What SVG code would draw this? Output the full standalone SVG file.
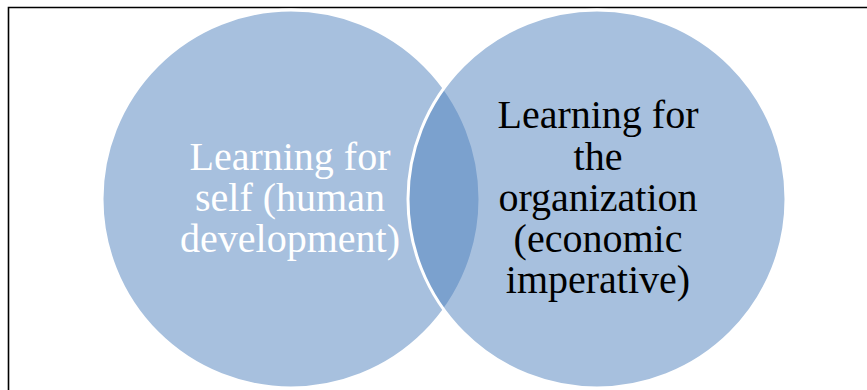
<svg xmlns="http://www.w3.org/2000/svg" width="867" height="390" viewBox="0 0 867 390">
<style>
.c{fill:#4F81BD;fill-opacity:0.5;stroke:#FFFFFF;stroke-width:3}
.t{font-family:"Liberation Serif","Times New Roman",serif;font-size:40px;text-anchor:middle}
</style>
<rect x="0" y="0" width="867" height="390" fill="#FFFFFF"/>
<path d="M8.5 390 V7.5 H867" fill="none" stroke="#000000" stroke-width="1.6"/>
<g id="self">
<circle class="c" cx="291" cy="199" r="189"/>
<text class="t" fill="#FFFFFF"><tspan x="290" y="170">Learning for</tspan><tspan x="290" y="211">self (human</tspan><tspan x="290" y="252">development)</tspan></text>
</g>
<g id="organization">
<circle class="c" cx="597" cy="199" r="189"/>
<text class="t" fill="#000000"><tspan x="598" y="128">Learning for</tspan><tspan x="598" y="169.5">the</tspan><tspan x="598" y="211">organization</tspan><tspan x="598" y="252">(economic</tspan><tspan x="598" y="293">imperative)</tspan></text>
</g>
<g id="connectors"></g>
</svg>
